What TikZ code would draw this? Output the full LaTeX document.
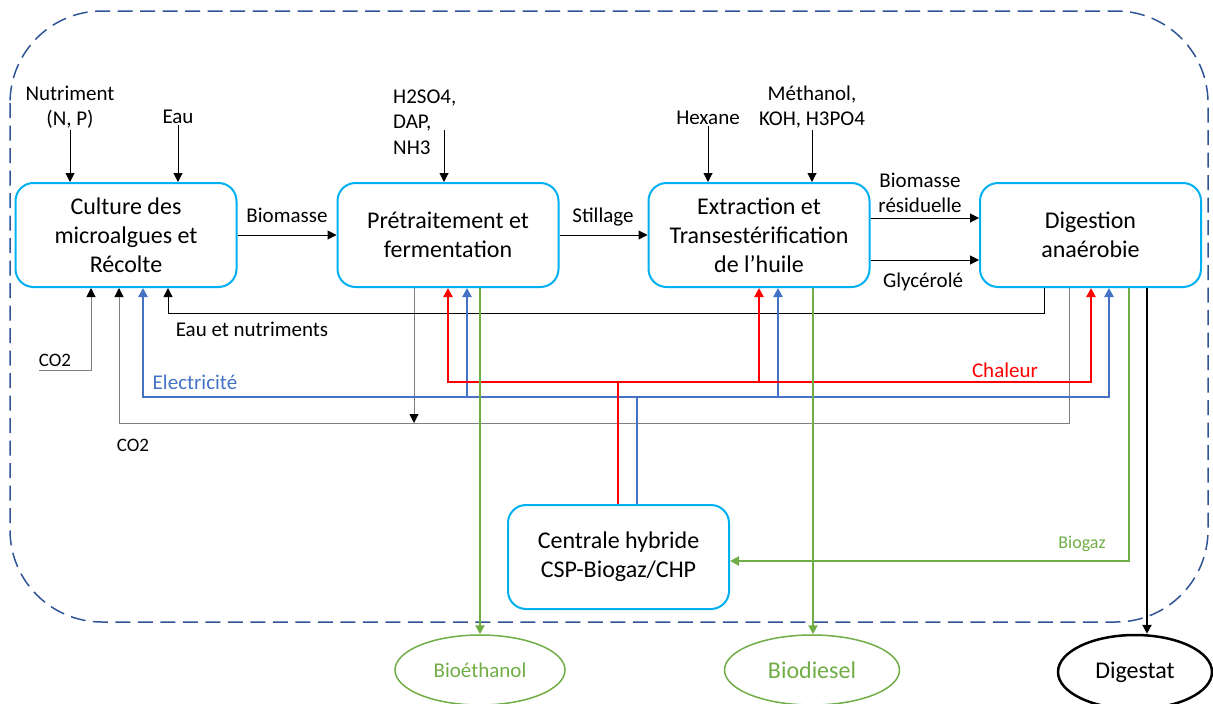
\documentclass[tikz,border=0pt]{standalone}
\usepackage{fontspec}
\setmainfont{Carlito}
\usetikzlibrary{arrows.meta,shapes.geometric}
\definecolor{boxcyan}{HTML}{00B0F0}
\definecolor{elecblue}{HTML}{4472C4}
\definecolor{heatred}{HTML}{FF0000}
\definecolor{gasgreen}{HTML}{70AD47}
\definecolor{frameblue}{HTML}{2F5597}
\definecolor{co2gray}{HTML}{7F7F7F}
\begin{document}
\begin{tikzpicture}[x=1pt,y=-1pt,
  procbox/.style={draw=boxcyan,line width=2pt,rounded corners=18pt,
    minimum width=221pt,minimum height=104pt,align=center,inner sep=0pt,
    font=\fontsize{24}{29}\selectfont},
  lbl/.style={font=\fontsize{21}{25.5}\selectfont,align=center,inner sep=1pt},
  small/.style={font=\fontsize{19}{23}\selectfont},
  tip/.style={-{Triangle[length=9pt,width=9pt]}},
  flow/.style={line width=1pt,draw=black},
  co2flow/.style={line width=1pt,draw=co2gray,-{Triangle[length=9pt,width=9pt,color=black]}},
  elec/.style={line width=2.5pt,draw=elecblue,line join=miter},
  heat/.style={line width=2.5pt,draw=heatred,line join=miter},
  gas/.style={line width=2.5pt,draw=gasgreen,line join=miter},
  product/.style={ellipse,line width=1.5pt,inner sep=0pt}
]
\useasboundingbox (0,0) rectangle (1213,704);

% system boundary
\draw[frameblue,line width=1.5pt,dash pattern=on 15pt off 7.5pt,rounded corners=92pt]
  (10,11) rectangle (1208,622);

% process units
\node[procbox] (cult) at (126,235) {Culture des\\microalgues et\\Récolte};
\node[procbox] (pret) at (448,235) {Prétraitement et\\fermentation};
\node[procbox] (extr) at (759,235) {Extraction et\\Transestérification\\de l’huile};
\node[procbox] (dig) at (1090.5,235) {Digestion\\anaérobie};
\node[procbox] (cent) at (618.5,557) {Centrale hybride\\CSP-Biogaz/CHP};

% products
\node[product,draw=gasgreen,text=gasgreen,minimum width=170pt,minimum height=70pt,
  font=\fontsize{21}{25}\selectfont] (bioeth) at (480,670) {Bioéthanol};
\node[product,draw=gasgreen,text=gasgreen,minimum width=175pt,minimum height=70pt,
  font=\fontsize{24}{29}\selectfont] (biod) at (812,670) {Biodiesel};
\node[product,draw=black,line width=2.5pt,minimum width=154pt,minimum height=74pt,
  font=\fontsize{24}{29}\selectfont] (digest) at (1135,672) {Digestat};

% inputs
\node[lbl] (nutr) at (70,107) {Nutriment\\(N, P)};
\node[lbl] (eau) at (178,117) {Eau};
\node[lbl,align=left,anchor=west] (acid) at (392,122) {H2SO4,\\DAP,\\NH3};
\coordinate (acidin) at (444,130);
\node[lbl] (hex) at (708,118) {Hexane};
\node[lbl] (meth) at (812,107) {Méthanol,\\KOH, H3PO4};
\coordinate (co2in) at (39,370);

% stream labels
\node[lbl] (lbio) at (287,215) {Biomasse};
\node[lbl] (lstil) at (603,217) {Stillage};
\node[lbl] (lres) at (920,193) {Biomasse\\résiduelle};
\node[lbl] (lgly) at (923,282) {Glycérolé};
\node[lbl] (leau) at (252,329) {Eau et nutriments};
\node[lbl,small] (lco2a) at (55,360) {CO2};
\node[lbl,small] (lco2b) at (133,445) {CO2};
\node[lbl,text=elecblue] (lelec) at (195,382) {Electricité};
\node[lbl,text=heatred] (lheat) at (1005,370) {Chaleur};
\node[lbl,text=gasgreen,font=\fontsize{18}{22}\selectfont] (lgas) at (1082,544) {Biogaz};

% feeds from the top
\draw[flow,tip] (nutr.south) -- (nutr.south |- cult.north);
\draw[flow,tip] (eau.south) -- (eau.south |- cult.north);
\draw[flow,tip] (acidin) -- (acidin |- pret.north);
\draw[flow,tip] (hex.south) -- (hex.south |- extr.north);
\draw[flow,tip] (meth.south) -- (meth.south |- extr.north);

% main chain
\draw[flow,tip] (cult.east) -- (pret.west);
\draw[flow,tip] (pret.east) -- (extr.west);
\draw[flow,tip] (extr.east |- 0,218) -- (dig.west |- 0,218);
\draw[flow,tip] (extr.east |- 0,260) -- (dig.west |- 0,260);

% recycles
\draw[co2flow] (co2in) -| (91,0 |- cult.south);
\draw[co2flow] (1069,0 |- dig.south) |- (119,423) -- (119,0 |- cult.south);
\draw[co2flow] (414,0 |- pret.south) -- (414,423);
\draw[flow,tip] (1044,0 |- dig.south) |- (168,313) -- (168,0 |- cult.south);

% electricity
\draw[elec] (637,0 |- cent.north) -- (637,397);
\draw[elec,tip] (637,397) -| (143,0 |- cult.south);
\draw[elec,tip] (637,397) -| (1109,0 |- dig.south);
\draw[elec,tip] (467,397) -- (467,0 |- pret.south);
\draw[elec,tip] (778,397) -- (778,0 |- extr.south);

% heat
\draw[heat] (618,0 |- cent.north) -- (618,382);
\draw[heat,tip] (618,382) -| (448,0 |- pret.south);
\draw[heat,tip] (618,382) -| (1091,0 |- dig.south);
\draw[heat,tip] (759,382) -- (759,0 |- extr.south);

% products and biogas
\draw[gas,tip] (480,0 |- pret.south) -- (bioeth.north);
\draw[gas,tip] (813,0 |- extr.south) -- (813,0 |- biod.north);
\draw[gas,tip] (1129,0 |- dig.south) |- (cent.east |- 0,561);
\draw[line width=2.5pt,draw=black,tip] (1147,0 |- dig.south) -- (1147,0 |- digest.north);
\end{tikzpicture}
\end{document}
